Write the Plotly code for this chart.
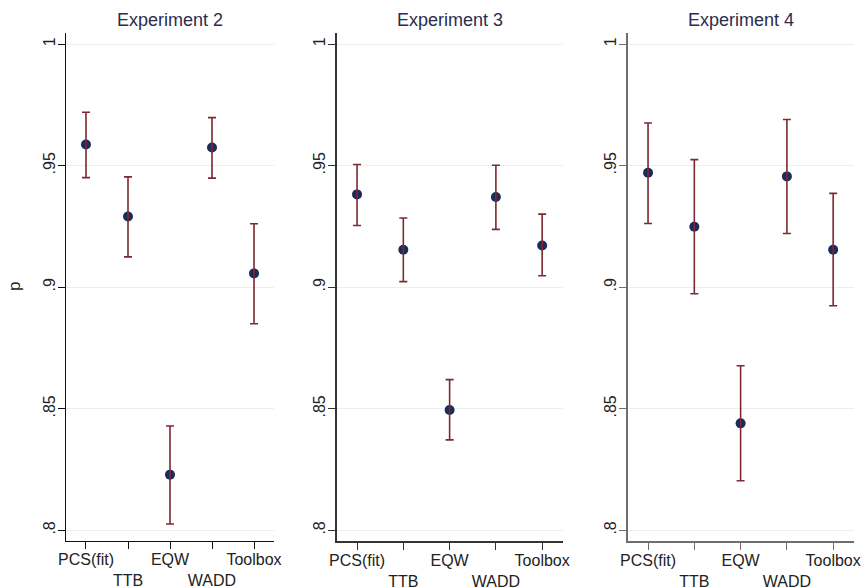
import plotly.graph_objects as go

models = ["PCS(fit)", "TTB", "EQW", "WADD", "Toolbox"]
tick_text = ["PCS(fit)", "<br>TTB", "EQW", "<br>WADD", "Toolbox"]
experiments = ["Experiment 2", "Experiment 3", "Experiment 4"]

p_exp2 = [0.9587, 0.9291, 0.8229, 0.9575, 0.9057]
hi_exp2 = [0.9720, 0.9454, 0.8429, 0.9698, 0.9261]
lo_exp2 = [0.9451, 0.9125, 0.8026, 0.9449, 0.8850]

p_exp3 = [0.9382, 0.9154, 0.8495, 0.9371, 0.9172]
hi_exp3 = [0.9505, 0.9285, 0.8620, 0.9502, 0.9301]
lo_exp3 = [0.9254, 0.9023, 0.8372, 0.9238, 0.9047]

p_exp4 = [0.9471, 0.9249, 0.8440, 0.9456, 0.9154]
hi_exp4 = [0.9676, 0.9525, 0.8677, 0.9690, 0.9386]
lo_exp4 = [0.9262, 0.8973, 0.8204, 0.9221, 0.8924]

y_ticks = [0.8, 0.85, 0.9, 0.95, 1.0]
y_tick_text = [".8", ".85", ".9", ".95", "1"]

data = [(p_exp2, hi_exp2, lo_exp2), (p_exp3, hi_exp3, lo_exp3), (p_exp4, hi_exp4, lo_exp4)]

W, H = 866, 588
x_dom_px = [(66, 274), (337, 563), (628, 854)]
x_ranges = [(0.524, 5.476), (0.567, 5.45), (0.567, 5.45)]
axis_colors = ["#111111", "#333333", "#6e6e6e"]
axis_widths = [1.2, 1.5, 2]
y_dom = [1 - 541 / H, 1 - 33 / H]

marker_color = "#1c2b57"
bar_color = "#7c2a31"
grid_color = "#e8f0f2"

fig = go.Figure()
xs = list(range(1, len(models) + 1))
for i, (p, hi, lo) in enumerate(data):
    sfx = "" if i == 0 else str(i + 1)
    fig.add_trace(go.Scatter(
        x=xs, y=p, mode="markers", xaxis="x" + sfx, yaxis="y" + sfx,
        marker=dict(color=marker_color, size=10), showlegend=False,
        hoverinfo="skip"))
    fig.add_trace(go.Scatter(
        x=xs, y=p, mode="markers", xaxis="x" + sfx, yaxis="y" + sfx,
        marker=dict(color="rgba(0,0,0,0)", size=1), showlegend=False,
        error_y=dict(type="data", symmetric=False,
                     array=[h - v for h, v in zip(hi, p)],
                     arrayminus=[v - l for l, v in zip(lo, p)],
                     color=bar_color, thickness=1.6, width=4)))

layout = dict(
    width=W, height=H,
    margin=dict(l=0, r=0, t=0, b=0, autoexpand=False),
    paper_bgcolor="white", plot_bgcolor="white",
    font=dict(family="Liberation Sans, Arial, sans-serif", color="#222222", size=16),
    annotations=[],
)
for i in range(3):
    sfx = "" if i == 0 else str(i + 1)
    x0, x1 = x_dom_px[i]
    layout["xaxis" + sfx] = dict(
        domain=[x0 / W, x1 / W], range=list(x_ranges[i]), anchor="y" + sfx,
        tickmode="array", tickvals=xs, ticktext=tick_text, tickangle=0,
        automargin=False, ticklabelstandoff=-3,
        ticks="outside", ticklen=7, tickcolor=axis_colors[i], tickwidth=1,
        showline=True, linecolor=axis_colors[i], linewidth=axis_widths[i],
        showgrid=False, zeroline=False, tickfont=dict(size=16, color="#222222"))
    layout["yaxis" + sfx] = dict(
        domain=y_dom, range=[0.7956, 1.0046], anchor="x" + sfx,
        tickmode="array", tickvals=y_ticks, ticktext=y_tick_text, tickangle=-90,
        automargin=False, ticklabelstandoff=-3,
        ticks="outside", ticklen=7, tickcolor=axis_colors[i], tickwidth=1,
        showline=True, linecolor=axis_colors[i], linewidth=axis_widths[i],
        showgrid=True, gridcolor=grid_color, gridwidth=1.2, zeroline=False,
        tickfont=dict(size=16, color="#222222"))
    layout["annotations"].append(dict(
        text=experiments[i], xref="paper", yref="paper",
        x=(x0 + x1) / 2 / W, y=1 - 20 / H, xanchor="center", yanchor="middle",
        showarrow=False, font=dict(size=18, color="#2a2d4e")))

layout["annotations"].append(dict(
    text="p", xref="paper", yref="paper", x=14 / W, y=1 - 287 / H,
    xanchor="center", yanchor="middle", textangle=-90, showarrow=False,
    font=dict(size=17, color="#222222")))

fig.update_layout(**layout)
fig.write_html("out.html", config={"displayModeBar": False},
               post_script="document.body.style.margin='0';document.body.style.overflow='hidden';")
